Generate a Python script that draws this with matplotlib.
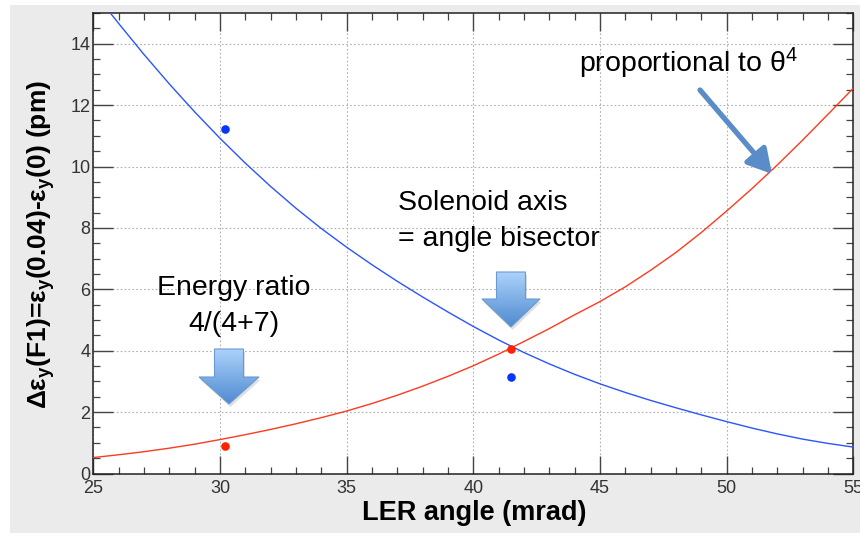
import numpy as np
import matplotlib
matplotlib.use("Agg")
import matplotlib.pyplot as plt
from matplotlib.patches import Polygon, Rectangle
from matplotlib.colors import LinearSegmentedColormap
from matplotlib.ticker import MultipleLocator

# ---------------- data ----------------
red_angle = [25, 26, 27, 28, 29, 30, 31, 32, 33, 34, 35, 36, 37, 38, 39, 40,
             41, 42, 43, 44, 45, 46, 47, 48, 49, 50, 51, 52, 53, 54, 55]
red_curve = [0.52, 0.61, 0.71, 0.825, 0.955, 1.105, 1.265, 1.435, 1.62, 1.82,
             2.035, 2.28, 2.55, 2.845, 3.165, 3.51, 3.89, 4.30, 4.72, 5.17,
             5.60, 6.08, 6.62, 7.20, 7.85, 8.55, 9.28, 10.05, 10.86, 11.70,
             12.55]

blue_angle = [25.7, 26, 27, 28, 29, 30, 31, 32, 33, 34, 35, 36, 37, 38, 39, 40,
              41, 42, 43, 44, 45, 46, 47, 48, 49, 50, 51, 52, 53, 54, 55]
blue_curve = [14.97, 14.66, 13.65, 12.69, 11.78, 10.92, 10.11, 9.35, 8.64, 7.98,
              7.37, 6.80, 6.26, 5.75, 5.26, 4.79, 4.35, 3.94, 3.57, 3.23, 2.92,
              2.64, 2.38, 2.14, 1.91, 1.69, 1.48, 1.29, 1.12, 0.98, 0.86]

point_angle = [30.2, 41.48]
red_points = [0.91, 4.07]
blue_points = [11.23, 3.14]

x_ticks = [25, 30, 35, 40, 45, 50, 55]
y_ticks = [0, 2, 4, 6, 8, 10, 12, 14]

x_label = "LER angle (mrad)"
y_label = r"Δε$_\mathbf{y}$(F1)=ε$_\mathbf{y}$(0.04)-ε$_\mathbf{y}$(0) (pm)"
note_theta = r"proportional to θ$^{4}$"
note_sol = ["Solenoid axis", "= angle bisector"]
note_energy = ["Energy ratio", "4/(4+7)"]

# ---------------- style ----------------
FONT = "Liberation Sans"
plt.rcParams["font.family"] = [FONT, "DejaVu Sans"]
plt.rcParams["mathtext.fontset"] = "custom"
plt.rcParams["mathtext.rm"] = FONT
plt.rcParams["mathtext.it"] = FONT + ":italic"
plt.rcParams["mathtext.bf"] = FONT + ":bold"

W, H = 860, 533
fig = plt.figure(figsize=(W / 100, H / 100), dpi=100)
fig.patch.set_facecolor("white")

# gray panel background
fig.add_artist(Rectangle((10 / W, 0), 1 - 10 / W, (H - 5) / H,
                         transform=fig.transFigure, facecolor="#ebebeb",
                         edgecolor="none", zorder=-10))

L, R, T, B = 93.3, 853.3, 13.0, 473.5
ax = fig.add_axes([L / W, (H - B) / H, (R - L) / W, (B - T) / H])
ax.set_facecolor("white")

ax.plot(red_angle, red_curve, color="#ff3a1e", lw=1.0, zorder=3)
ax.plot(blue_angle, blue_curve, color="#2a55ff", lw=1.0, zorder=3)
ax.plot(point_angle, red_points, "o", color="#ff2200", ms=6.2, mec="none", zorder=4)
ax.plot(point_angle, blue_points, "o", color="#0a35ff", ms=6.2, mec="none", zorder=4)

ax.set_xlim(25, 55)
ax.set_ylim(0, 15)
ax.set_xticks(x_ticks)
ax.set_yticks(y_ticks)
ax.xaxis.set_minor_locator(MultipleLocator(1))
ax.yaxis.set_minor_locator(MultipleLocator(0.5))
ax.grid(True, which="major", color="#b0b0b0", ls=(0, (1.5, 2)), lw=0.8)
ax.set_axisbelow(True)

tick_col = "#444444"
ax.tick_params(axis="y", which="major", direction="in", length=14.4, width=1.0,
               left=True, right=True, color=tick_col, labelsize=13,
               labelcolor="#333333", pad=2)
ax.tick_params(axis="y", which="minor", direction="in", length=5, width=0.9,
               left=True, right=True, color=tick_col)
ax.tick_params(axis="x", which="major", direction="in", length=13, width=1.0,
               bottom=True, top=True, color=tick_col, labelsize=13,
               labelcolor="#333333", pad=5)
ax.tick_params(axis="x", which="minor", direction="in", length=5, width=0.9,
               bottom=True, top=True, color=tick_col)
for s in ax.spines.values():
    s.set_color("#222222")
    s.set_linewidth(1.1)

# ---------------- overlay in pixel coordinates ----------------
ov = fig.add_axes([0, 0, 1, 1], zorder=10)
ov.patch.set_alpha(0)
ov.set_xlim(0, W)
ov.set_ylim(H, 0)
ov.axis("off")

ov.text(474, 513, x_label, fontsize=19.5, fontweight="bold", ha="center",
        va="center")
ov.text(41, 245, y_label, fontsize=19, fontweight="bold", ha="center",
        va="center", rotation=90)

ov.text(579, 72, note_theta, fontsize=20.5, ha="left", va="baseline")
ov.text(398, 210, note_sol[0], fontsize=20.5, ha="left", va="baseline")
ov.text(398, 246, note_sol[1], fontsize=20.5, ha="left", va="baseline")
ov.text(234, 295, note_energy[0], fontsize=20.5, ha="center", va="baseline")
ov.text(234, 331, note_energy[1], fontsize=20.5, ha="center", va="baseline")

cmap = LinearSegmentedColormap.from_list("g", ["#acd2fb", "#4f8ad0"])


def block_arrow(cx, top, head_top, tip, shaft_hw, head_hw):
    verts = [(cx - shaft_hw, top), (cx + shaft_hw, top), (cx + shaft_hw, head_top),
             (cx + head_hw, head_top), (cx, tip), (cx - head_hw, head_top),
             (cx - shaft_hw, head_top)]
    shadow = Polygon([(x + 1.5, y + 3) for x, y in verts], closed=True,
                     facecolor="#000000", alpha=0.12, edgecolor="none")
    ov.add_patch(shadow)
    poly = Polygon(verts, closed=True, facecolor="none", edgecolor="#6b9ad2",
                   lw=0.8, zorder=3)
    ov.add_patch(poly)
    grad = np.linspace(0, 1, 256).reshape(-1, 1)
    im = ov.imshow(grad, extent=(cx - head_hw, cx + head_hw, tip, top),
                   cmap=cmap, aspect="auto", origin="upper", zorder=2)
    im.set_clip_path(poly)


block_arrow(229, 349, 377, 404, 14.5, 30)
block_arrow(511, 272, 299, 327, 14.5, 29)

ov.annotate("", xy=(772, 174), xytext=(700, 90),
            arrowprops=dict(arrowstyle="-|>,head_length=0.8,head_width=0.45",
                            lw=3.8, color="#5a8cc8", shrinkA=0, shrinkB=0,
                            mutation_scale=18))

ov.set_xlim(0, W)
ov.set_ylim(H, 0)

fig.savefig("out.png", dpi=100)
